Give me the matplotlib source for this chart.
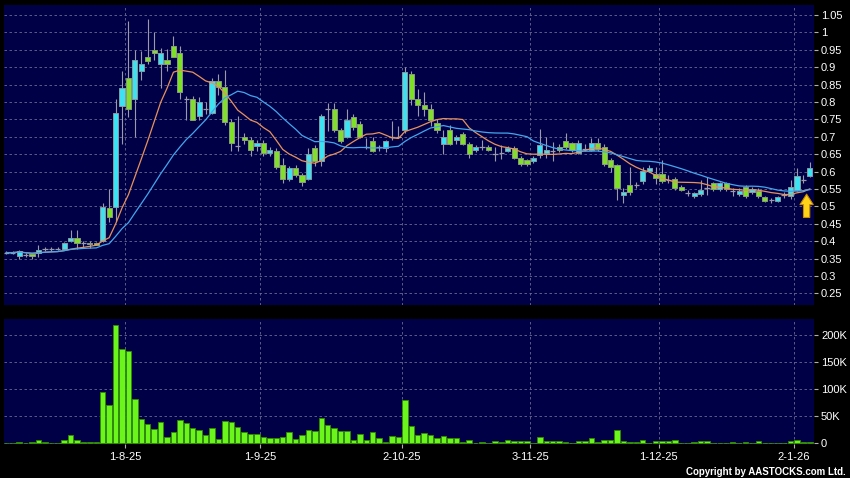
import matplotlib
matplotlib.use('Agg')
import matplotlib.pyplot as plt
import numpy as np
import pandas as pd

# trading days shown on the chart (HK market holidays removed)
hk_holidays = ['2025-10-01', '2025-10-07', '2025-10-29',
               '2025-12-25', '2025-12-26', '2026-01-01']
dates = pd.bdate_range('2025-07-07', '2026-01-06', freq='C', holidays=hk_holidays)

opens = [0.367, 0.367, 0.358, 0.361, 0.362, 0.366, 0.377, 0.377, 0.377, 0.378,
         0.399, 0.409, 0.396, 0.396, 0.395, 0.400, 0.495, 0.498, 0.788, 0.869,
         0.809, 0.888, 0.928, 0.949, 0.909, 0.921, 0.962, 0.940, 0.809, 0.809,
         0.761, 0.780, 0.769, 0.860, 0.842, 0.742, 0.673, 0.700, 0.690, 0.673,
         0.681, 0.652, 0.659, 0.618, 0.578, 0.610, 0.590, 0.578, 0.669, 0.631,
         0.779, 0.779, 0.720, 0.700, 0.758, 0.738, 0.670, 0.688, 0.670, 0.669,
         0.700, 0.700, 0.718, 0.881, 0.809, 0.790, 0.780, 0.739, 0.680, 0.720,
         0.690, 0.709, 0.680, 0.661, 0.671, 0.671, 0.651, 0.653, 0.659, 0.669,
         0.640, 0.632, 0.630, 0.647, 0.652, 0.660, 0.671, 0.689, 0.681, 0.654,
         0.665, 0.662, 0.681, 0.671, 0.633, 0.619, 0.533, 0.561, 0.561, 0.573,
         0.602, 0.592, 0.592, 0.577, 0.580, 0.557, 0.538, 0.529, 0.536, 0.554,
         0.567, 0.550, 0.567, 0.543, 0.536, 0.555, 0.542, 0.545, 0.527, 0.518,
         0.516, 0.533, 0.529, 0.548, 0.576, 0.588]
highs = [0.372, 0.371, 0.374, 0.367, 0.367, 0.390, 0.383, 0.384, 0.382, 0.398,
         0.431, 0.431, 0.400, 0.400, 0.398, 0.510, 0.551, 0.809, 0.890, 1.032,
         0.949, 0.947, 1.038, 1.002, 0.955, 0.952, 0.990, 0.962, 0.818, 0.818,
         0.814, 0.800, 0.870, 0.880, 0.892, 0.750, 0.761, 0.710, 0.700, 0.690,
         0.690, 0.670, 0.669, 0.640, 0.617, 0.620, 0.595, 0.669, 0.675, 0.765,
         0.798, 0.798, 0.725, 0.779, 0.765, 0.745, 0.695, 0.700, 0.675, 0.690,
         0.745, 0.730, 0.900, 0.890, 0.838, 0.830, 0.795, 0.750, 0.718, 0.733,
         0.705, 0.715, 0.685, 0.675, 0.690, 0.675, 0.671, 0.675, 0.672, 0.672,
         0.645, 0.635, 0.645, 0.723, 0.700, 0.685, 0.680, 0.710, 0.685, 0.690,
         0.680, 0.695, 0.695, 0.680, 0.640, 0.622, 0.552, 0.613, 0.570, 0.613,
         0.620, 0.613, 0.633, 0.590, 0.585, 0.561, 0.548, 0.542, 0.576, 0.585,
         0.570, 0.570, 0.570, 0.552, 0.552, 0.561, 0.555, 0.552, 0.530, 0.525,
         0.530, 0.540, 0.576, 0.610, 0.590, 0.627]
lows = [0.362, 0.362, 0.350, 0.355, 0.350, 0.355, 0.372, 0.373, 0.374, 0.376,
        0.397, 0.377, 0.381, 0.381, 0.388, 0.398, 0.455, 0.458, 0.680, 0.758,
        0.699, 0.863, 0.910, 0.920, 0.840, 0.890, 0.928, 0.809, 0.747, 0.747,
        0.747, 0.765, 0.765, 0.820, 0.735, 0.660, 0.660, 0.680, 0.645, 0.660,
        0.645, 0.645, 0.607, 0.568, 0.573, 0.585, 0.559, 0.575, 0.616, 0.616,
        0.717, 0.715, 0.683, 0.697, 0.720, 0.695, 0.665, 0.655, 0.660, 0.655,
        0.690, 0.695, 0.710, 0.790, 0.761, 0.761, 0.730, 0.710, 0.651, 0.675,
        0.680, 0.675, 0.640, 0.655, 0.661, 0.660, 0.630, 0.635, 0.655, 0.635,
        0.615, 0.615, 0.625, 0.640, 0.640, 0.630, 0.655, 0.665, 0.655, 0.650,
        0.660, 0.660, 0.660, 0.615, 0.600, 0.518, 0.510, 0.533, 0.552, 0.565,
        0.598, 0.565, 0.566, 0.566, 0.548, 0.545, 0.529, 0.525, 0.529, 0.532,
        0.545, 0.545, 0.545, 0.529, 0.530, 0.525, 0.536, 0.525, 0.513, 0.509,
        0.513, 0.525, 0.520, 0.545, 0.567, 0.583]
closes = [0.367, 0.367, 0.372, 0.361, 0.358, 0.374, 0.377, 0.377, 0.377, 0.396,
          0.409, 0.396, 0.396, 0.391, 0.390, 0.498, 0.469, 0.769, 0.839, 0.779,
          0.921, 0.909, 0.918, 0.940, 0.941, 0.909, 0.930, 0.830, 0.809, 0.749,
          0.800, 0.780, 0.859, 0.842, 0.742, 0.681, 0.673, 0.691, 0.662, 0.681,
          0.652, 0.662, 0.612, 0.580, 0.610, 0.590, 0.570, 0.650, 0.631, 0.760,
          0.779, 0.720, 0.688, 0.747, 0.728, 0.700, 0.670, 0.659, 0.670, 0.688,
          0.700, 0.700, 0.887, 0.809, 0.790, 0.780, 0.749, 0.720, 0.700, 0.680,
          0.700, 0.680, 0.651, 0.671, 0.671, 0.661, 0.651, 0.653, 0.669, 0.640,
          0.621, 0.621, 0.640, 0.676, 0.662, 0.660, 0.662, 0.671, 0.662, 0.681,
          0.665, 0.681, 0.664, 0.621, 0.614, 0.552, 0.542, 0.542, 0.561, 0.602,
          0.611, 0.582, 0.574, 0.577, 0.553, 0.548, 0.538, 0.538, 0.548, 0.554,
          0.550, 0.567, 0.550, 0.543, 0.543, 0.529, 0.550, 0.529, 0.516, 0.518,
          0.527, 0.533, 0.555, 0.588, 0.576, 0.610]
# volume in thousands of shares
volume_k = [1, 1, 2, 1, 2.5, 5.5, 2.5, 0.5, 1, 5.5,
            15, 5.5, 2.5, 3, 2.5, 95, 70, 218, 174, 170,
            82, 45, 36, 26, 39, 11, 20, 43, 37, 28,
            25, 15, 29, 8, 42, 39, 30, 20, 17, 17,
            12, 10.5, 10.5, 12, 20, 8, 15, 25, 23, 47,
            34, 28, 22, 23, 6, 18, 6, 21, 10, 2.5,
            13.5, 12, 80, 32, 15, 19, 16, 9, 13.5, 10.5,
            9, 2, 7, 1, 2, 1, 5, 2, 6, 5,
            4, 3.5, 1, 12, 4, 5, 5, 2.5, 1, 4,
            4, 9, 3, 7, 7, 25, 4, 2.5, 2.5, 6,
            1, 3.5, 3.5, 3.5, 6, 1, 1, 2, 5, 4,
            0.5, 0.5, 0.5, 2.5, 1, 2.5, 1, 3.5, 1, 1,
            1, 1, 3.5, 5.5, 2.5, 2]

price_ticks = [0.25, 0.3, 0.35, 0.4, 0.45, 0.5, 0.55, 0.6, 0.65, 0.7, 0.75,
               0.8, 0.85, 0.9, 0.95, 1.0, 1.05]
vol_ticks = [0, 50, 100, 150, 200]

o = np.array(opens); h = np.array(highs); l = np.array(lows); c = np.array(closes)
x = np.arange(len(dates))
ma10 = pd.Series(c).rolling(10, min_periods=1).mean()
ma20 = pd.Series(c).rolling(20, min_periods=1).mean()

# first trading day of each month (the partial first month is not labelled)
month = dates.month
starts = [i for i in range(1, len(dates)) if month[i] != month[i - 1]]
start_labels = [f'{dates[i].day}-{dates[i].month}-{dates[i].year % 100}' for i in starts]

NAVY = '#000046'
GRID = '#6a6a92'
UP = '#3ce2f2'
DOWN = '#7fe028'
WICK = '#9a9aaa'

plt.rcParams['font.family'] = ['Liberation Sans', 'DejaVu Sans']
fig = plt.figure(figsize=(8.5, 4.78), dpi=100, facecolor='black')
ax = fig.add_axes([4 / 850, 1 - 305 / 478, 810 / 850, 300 / 478])
axv = fig.add_axes([4 / 850, 1 - 444 / 478, 810 / 850, 124.7 / 478], sharex=ax)

for a in (ax, axv):
    a.set_facecolor(NAVY)
    for s in a.spines.values():
        s.set_visible(False)
    a.yaxis.tick_right()
    a.tick_params(axis='y', colors='#b0b0b0', labelcolor='white', length=3,
                  width=0.8, pad=2, labelsize=8)
    a.grid(True, color=GRID, linestyle=(0, (3, 3)), linewidth=0.6)
    a.set_axisbelow(True)

# candles
up = c > o
down = c < o
flat = c == o
ax.vlines(x, l, h, color=WICK, linewidth=0.8, zorder=2)
ax.bar(x[up], (c - o)[up], bottom=o[up], width=0.8, color=UP,
       edgecolor='#8a9aa0', linewidth=0.7, zorder=3)
ax.bar(x[down], (o - c)[down], bottom=c[down], width=0.8, color=DOWN,
       edgecolor='#8a9a80', linewidth=0.7, zorder=3)
ax.hlines(c[flat], x[flat] - 0.42, x[flat] + 0.42, color=WICK, linewidth=0.9, zorder=3)

ax.plot(x, ma10, color='#e8925c', linewidth=0.9, zorder=4)
ax.plot(x, ma20, color='#44a6ee', linewidth=0.9, zorder=4)

# yellow marker arrow under the last candles
ax.annotate('', xy=(124.5, 0.535), xytext=(124.5, 0.468),
            arrowprops=dict(arrowstyle='simple,head_width=0.95,head_length=0.75,tail_width=0.45',
                            mutation_scale=10, fc='#ffd21a', ec='#c88a00', lw=0.8,
                            shrinkA=0, shrinkB=0), zorder=5)

ax.set_ylim(0.2164, 1.0787)
ax.set_yticks(price_ticks)
ax.set_yticklabels([f'{v:g}' for v in price_ticks])
ax.set_xlim(-0.36, len(dates) - 0.35)
ax.set_xticks([s - 0.5 for s in starts])
ax.tick_params(axis='x', length=0, labelbottom=False)

# volume
axv.bar(x, volume_k, width=0.86, color='#6cf51c', edgecolor='#2f8c00',
        linewidth=0.6, zorder=3)
axv.set_ylim(-1.3, 229)
axv.set_yticks(vol_ticks)
axv.set_yticklabels(['0'] + [f'{v}K' for v in vol_ticks[1:]])
axv.set_xticks([s - 0.5 for s in starts])
axv.set_xticklabels(start_labels)
axv.tick_params(axis='x', colors='#b0b0b0', labelcolor='white', length=3,
                width=0.8, pad=3, labelsize=8)

fig.text(846 / 850, 1 - 472 / 478, 'Copyright by AASTOCKS.com Ltd.', ha='right',
         va='center', color='white', fontsize=7, fontweight='bold')

fig.savefig('out.png', dpi=100, facecolor='black')
